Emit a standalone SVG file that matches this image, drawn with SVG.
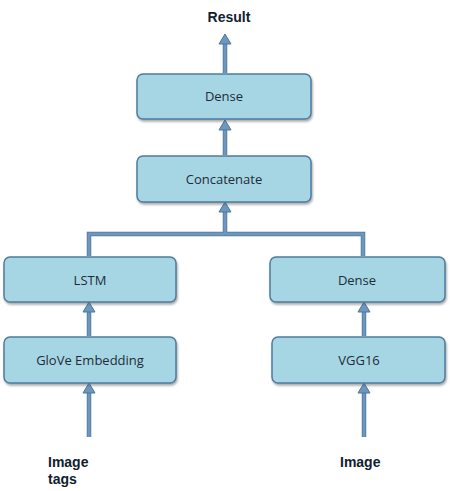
<svg xmlns="http://www.w3.org/2000/svg" width="450" height="491" viewBox="0 0 450 491">
<defs>
<style>
.box{fill:#a6d6e4;stroke:#4f7ca0;stroke-width:1.5;filter:url(#sh)}
.lbl{font-family:"Open Sans","Liberation Sans",sans-serif;font-size:13px;fill:#1e2c38;text-anchor:middle}
.io{font-family:"Liberation Sans",Arial,sans-serif;font-size:14px;font-weight:bold;fill:#10202e}
.ln{fill:none;stroke:#6f97bb;stroke-width:3}
.lo{fill:none;stroke:#4a76a0;stroke-width:4.5}
</style>
<filter id="sh" x="-10%" y="-20%" width="120%" height="150%">
<feDropShadow dx="1" dy="2" stdDeviation="1" flood-color="#555" flood-opacity="0.5"/>
</filter>
<marker id="ah" viewBox="0 0 10 10" refX="5" refY="3" markerWidth="10" markerHeight="10" markerUnits="userSpaceOnUse" orient="auto-start-reverse">
<path d="M0,8 L5,0 L10,8 L6.5,8 L6.5,10 L3.5,10 L3.5,8 Z" fill="#6f97bb" stroke="#4a76a0" stroke-width="0.8"/>
</marker>
</defs>
<g id="connectors">
<path class="lo" d="M225,73 V42"/>
<path class="ln" d="M225,73 V42"/>
<path class="lo" d="M225,155 V125"/>
<path class="ln" d="M225,155 V125"/>
<path class="lo" d="M89,256 V234 H363 V256 M225,234 V207"/>
<path class="ln" d="M89,256 V234 H363 V256 M225,234 V207"/>
<path class="lo" d="M89,336 V307"/>
<path class="ln" d="M89,336 V307"/>
<path class="lo" d="M364,336 V307"/>
<path class="ln" d="M364,336 V307"/>
<path class="lo" d="M89,437 V388"/>
<path class="ln" d="M89,437 V388"/>
<path class="lo" d="M364,437 V388"/>
<path class="ln" d="M364,437 V388"/>
<g fill="#6f97bb" stroke="#4a76a0" stroke-width="1">
<path d="M225,34 L231,44 L219,44 Z"/>
<path d="M225,120 L231,130 L219,130 Z"/>
<path d="M225,202 L231,212 L219,212 Z"/>
<path d="M89,302 L95,312 L83,312 Z"/>
<path d="M364,302 L370,312 L358,312 Z"/>
<path d="M89,383 L95,393 L83,393 Z"/>
<path d="M364,383 L370,393 L358,393 Z"/>
</g>
</g>
<g id="result"><text class="io" x="229" y="22" text-anchor="middle">Result</text></g>
<g id="dense-top"><rect class="box" x="137" y="74" width="174" height="45" rx="6"/><text class="lbl" x="224" y="101">Dense</text></g>
<g id="concatenate"><rect class="box" x="137" y="156" width="174" height="46" rx="6"/><text class="lbl" x="224" y="184">Concatenate</text></g>
<g id="lstm"><rect class="box" x="4" y="257" width="172" height="45" rx="6"/><text class="lbl" x="90" y="285">LSTM</text></g>
<g id="dense-right"><rect class="box" x="270" y="257" width="175" height="45" rx="6"/><text class="lbl" x="357" y="285">Dense</text></g>
<g id="glove"><rect class="box" x="4" y="337" width="172" height="46" rx="6"/><text class="lbl" x="90" y="365">GloVe Embedding</text></g>
<g id="vgg16"><rect class="box" x="272" y="337" width="173" height="46" rx="6"/><text class="lbl" x="359" y="365">VGG16</text></g>
<g id="image-tags"><text class="io" x="48" y="467">Image</text><text class="io" x="48" y="484">tags</text></g>
<g id="image"><text class="io" x="340" y="467">Image</text></g>
</svg>
